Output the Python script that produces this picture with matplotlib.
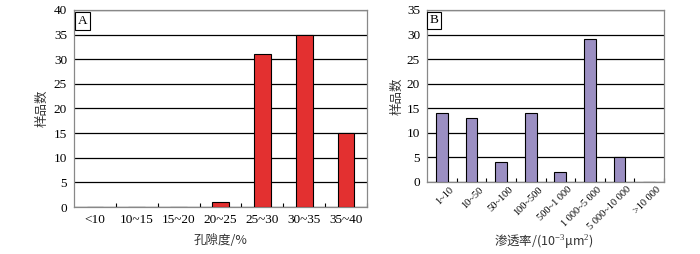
import matplotlib
matplotlib.use("Agg")
import matplotlib.pyplot as plt
import matplotlib.transforms as mtransforms
import numpy as np

# panel A data
poro_labels = ["<10", "10~15", "15~20", "20~25", "25~30", "30~35", "35~40"]
poro_counts = [0, 0, 0, 1, 31, 35, 15]

# panel B data
perm_labels = ["1~10", "10~50", "50~100", "100~500", "500~1 000",
               "1 000~5 000", "5 000~10 000", ">10 000"]
perm_counts = [14, 13, 4, 14, 2, 29, 5, 0]

SERIF = ["Liberation Serif", "Noto Sans CJK SC"]
CJK = ["Noto Sans CJK SC", "Liberation Serif"]
plt.rcParams["font.family"] = SERIF
plt.rcParams["font.size"] = 9.5
plt.rcParams["mathtext.fontset"] = "custom"
plt.rcParams["mathtext.rm"] = "Liberation Serif"
plt.rcParams["mathtext.it"] = "Liberation Serif:italic"

fig = plt.figure(figsize=(7, 2.54), dpi=100)
W, H = 700, 254


def ax_at(x0, x1, y0, y1):
    return fig.add_axes([x0 / W, 1 - y1 / H, (x1 - x0) / W, (y1 - y0) / H])


def style(ax, ncat, ymax, letter):
    ax.set_xlim(-0.5, ncat - 0.5)
    ax.set_ylim(0, ymax)
    ax.set_yticks(np.arange(0, ymax + 1, 5))
    ax.yaxis.grid(True, color="black", linewidth=0.9)
    ax.set_axisbelow(True)
    for s in ax.spines.values():
        s.set_color("#888888")
        s.set_linewidth(0.9)
    ax.tick_params(axis="y", length=0, pad=5, labelsize=9.5)
    # boundary ticks on x
    ax.set_xticks(np.arange(ncat) + 0.5)
    ax.set_xticklabels([])
    ax.tick_params(axis="x", direction="in", length=3, color="black", width=0.8)
    ax.text(0.012, 0.975, letter, transform=ax.transAxes, ha="left", va="top",
            fontsize=9.5, bbox=dict(boxstyle="square,pad=0.2", fc="white", ec="black", lw=0.8))


def below(base, px_x, px_y):
    return mtransforms.offset_copy(base, fig=fig, x=px_x * 0.72, y=-px_y * 0.72, units="points")


# panel A
axA = ax_at(74, 367, 10, 207)
xa = np.arange(len(poro_labels))
axA.bar(xa, poro_counts, width=0.4, color="#e33030", edgecolor="black", linewidth=0.8, zorder=3)
style(axA, len(poro_labels), 40, "A")
tA = below(axA.get_xaxis_transform(), 0, 13)
for i, lab in enumerate(poro_labels):
    axA.text(i, 0, lab, transform=tA, ha="center", va="center", fontsize=9.5)
axA.text(0.5, 0, "孔隙度/%", transform=below(axA.transAxes, 0, 34), ha="center", va="center",
         family=CJK, fontsize=9, color="#333333")
axA.set_ylabel("样品数", family=CJK, fontsize=9, color="#333333")
axA.yaxis.set_label_coords(-25 / 293, 0.5)

# panel B
axB = ax_at(427, 664, 10, 182)
xb = np.arange(len(perm_labels))
axB.bar(xb, perm_counts, width=0.4, color="#9b8fc2", edgecolor="black", linewidth=0.8, zorder=3)
style(axB, len(perm_labels), 35, "B")
tB = below(axB.get_xaxis_transform(), 7, 3)
for i, lab in enumerate(perm_labels):
    axB.text(i, 0, lab, transform=tB, ha="right", va="top", rotation=45,
             rotation_mode="anchor", fontsize=7.5)
axB.text(0.5, 0, "渗透率/(10$^{-3}$μm$^{2}$)", transform=below(axB.transAxes, -2, 59),
         ha="center", va="center", family=CJK, fontsize=9, color="#333333")
axB.set_ylabel("样品数", family=CJK, fontsize=9, color="#333333")
axB.yaxis.set_label_coords(-23 / 237, 0.5)

fig.savefig("out.png", dpi=100)
